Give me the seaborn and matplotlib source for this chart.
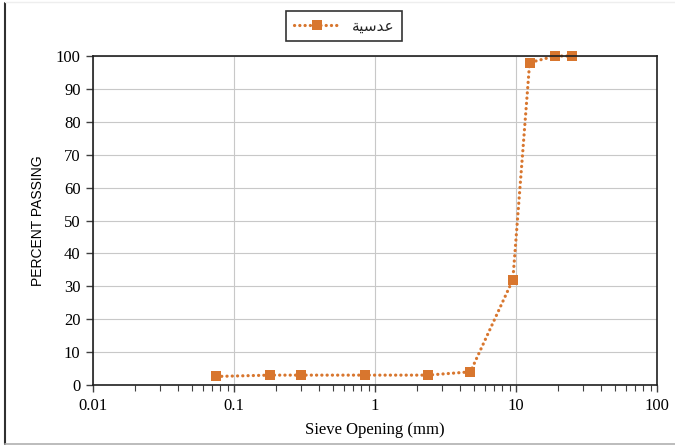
import matplotlib
matplotlib.use("Agg")
import matplotlib.pyplot as plt
import seaborn as sns
import pandas as pd
from matplotlib.ticker import LogLocator, FixedLocator, NullFormatter
from matplotlib.lines import Line2D

# Data
sieve_mm = [0.075, 0.18, 0.3, 0.85, 2.36, 4.75, 9.5, 12.5, 19.0, 25.0]
percent_passing = [2.6, 3.0, 3.0, 3.0, 3.0, 4.0, 32.0, 98.0, 100.0, 100.0]
series_name = "عدسية"
# visual (shaped, left-to-right) form of the Arabic label for rendering
series_label_display = "\uFE94\uFEF4\uFEB3\uFEAA\uFECB"
x_ticks = [0.01, 0.1, 1, 10, 100]
x_tick_labels = ["0.01", "0.1", "1", "10", "100"]
y_ticks = [0, 10, 20, 30, 40, 50, 60, 70, 80, 90, 100]

df = pd.DataFrame({"Sieve": sieve_mm, "Passing": percent_passing, "Series": series_name})

sns.set_theme(style="white")
fig = plt.figure(figsize=(6.75, 4.47), dpi=100)
ax = fig.add_axes([0.1378, 0.1387, 0.9733 - 0.1378, 0.8747 - 0.1387])

color = "#D8762E"
dash = (0, (0.05, 1.6))
sns.lineplot(data=df, x="Sieve", y="Passing", ax=ax, color=color, linestyle=dash,
             linewidth=2.3, marker="s", markersize=6.5, markeredgewidth=0,
             markerfacecolor=color, legend=False, sort=False)
for ln in ax.get_lines():
    ln.set_clip_on(False)
    ln.set_dash_capstyle("round")
ax.set_xscale("log")
ax.set_xlim(0.01, 100)
ax.set_ylim(0, 100)

ax.xaxis.set_major_locator(FixedLocator(x_ticks))
ax.set_xticklabels(x_tick_labels)
ax.xaxis.set_minor_locator(LogLocator(base=10, subs=range(2, 10)))
ax.xaxis.set_minor_formatter(NullFormatter())
ax.set_yticks(y_ticks)

ax.grid(True, which="major", axis="both", color="#C8C8C8", linewidth=0.8)
ax.grid(False, which="minor")
ax.set_axisbelow(True)

for s in ax.spines.values():
    s.set_color("#202020")
    s.set_linewidth(1.2)

serif = ["Liberation Serif", "DejaVu Serif"]
ax.tick_params(axis="x", which="major", direction="out", length=5, width=1, color="#404040",
               bottom=True, labelsize=12, pad=4)
ax.tick_params(axis="x", which="minor", direction="out", length=4, width=0.8, color="#404040",
               bottom=True)
ax.tick_params(axis="y", which="major", direction="out", length=5, width=1, color="#404040",
               left=True, labelsize=12, pad=4)
for lab in ax.get_xticklabels() + ax.get_yticklabels():
    lab.set_fontfamily(serif)
    lab.set_color("#000000")

ax.set_xlabel("Sieve Opening (mm)", fontfamily=serif, fontsize=12, color="black", labelpad=6)
ax.set_ylabel("PERCENT PASSING", fontfamily=["Liberation Sans", "DejaVu Sans"], fontsize=10,
              color="black", labelpad=8)

handle = Line2D([], [], color=color, linestyle=dash, linewidth=2.3, marker="s",
                markersize=6.5, markeredgewidth=0, dash_capstyle="round")
leg = fig.legend([handle], [series_label_display], loc="center", bbox_to_anchor=(344 / 675, 1 - 26 / 447),
                 frameon=True, fancybox=False, edgecolor="black", handlelength=3.0,
                 prop={"family": ["DejaVu Sans"], "size": 11}, borderpad=0.5, handletextpad=0.8)
leg.get_frame().set_linewidth(1.2)

# outer figure border
fig.add_artist(Line2D([5 / 675, 5 / 675], [3 / 447, 1 - 3 / 447], transform=fig.transFigure,
                      color="#303030", linewidth=1.5))
fig.add_artist(Line2D([5 / 675, 1], [3 / 447, 3 / 447], transform=fig.transFigure,
                      color="#B0B0B0", linewidth=1.2))
fig.add_artist(Line2D([5 / 675, 1], [1 - 2 / 447, 1 - 2 / 447], transform=fig.transFigure,
                      color="#EEEEEE", linewidth=1.0))

fig.savefig("out.png", dpi=100)
